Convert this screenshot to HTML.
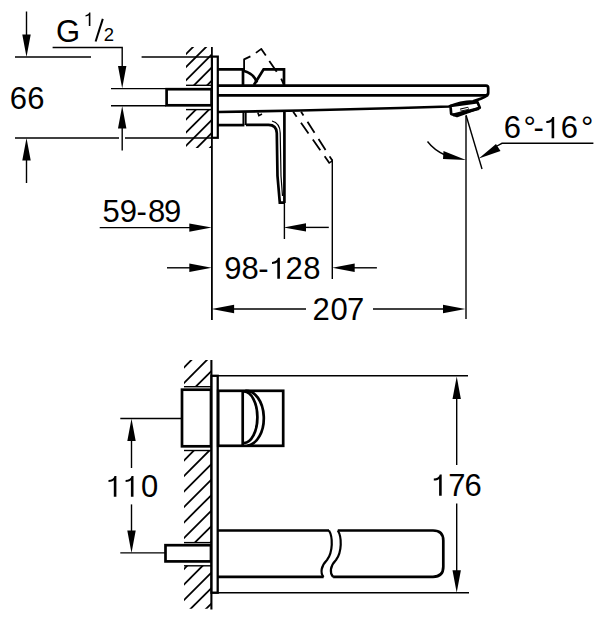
<!DOCTYPE html>
<html><head><meta charset="utf-8"><style>
html,body{margin:0;padding:0;background:#fff;}
svg{display:block;}
text{font-family:"Liberation Sans",sans-serif;fill:#000;}
</style></head><body>
<svg width="604" height="620" viewBox="0 0 604 620">
<defs>
<clipPath id="h1"><rect x="186" y="47" width="25.7" height="38.3"/></clipPath>
<clipPath id="h2"><rect x="186" y="109.6" width="25.7" height="38.4"/></clipPath>
<clipPath id="h3"><rect x="184" y="360" width="27" height="26.7"/></clipPath>
<clipPath id="h4"><rect x="184" y="450.5" width="27" height="92.1"/></clipPath>
<clipPath id="h5"><rect x="184" y="565.8" width="27" height="43"/></clipPath>
</defs>
<rect width="604" height="620" fill="#fff"/>
<g stroke="#000" stroke-width="1.4" fill="none"><line x1="26.5" y1="11.5" x2="26.5" y2="40"/><line x1="15" y1="57" x2="91" y2="57"/><line x1="141.6" y1="57" x2="212" y2="57"/><line x1="15" y1="138" x2="119" y2="138"/><line x1="125" y1="138" x2="212" y2="138"/><line x1="26.5" y1="155" x2="26.5" y2="183"/><polyline points="52.6,47.5 122.2,47.5 122.2,70"/><line x1="111" y1="88.6" x2="166" y2="88.6"/><line x1="111" y1="105.8" x2="166" y2="105.8"/><line x1="122.2" y1="125" x2="122.2" y2="150.4"/><line x1="211.9" y1="47" x2="211.9" y2="320" stroke-width="1.8"/><line x1="186" y1="85.3" x2="212" y2="85.3"/><line x1="186" y1="109.6" x2="212" y2="109.6"/></g><g stroke="#000" fill="none"><g clip-path="url(#h1)" stroke-width="1.8"><line x1="184" y1="56" x2="213.7" y2="26.30000000000001"/><line x1="184" y1="69.1" x2="213.7" y2="39.400000000000006"/><line x1="184" y1="82.19999999999999" x2="213.7" y2="52.5"/><line x1="184" y1="95.30000000000001" x2="213.7" y2="65.60000000000002"/><line x1="184" y1="108.40000000000003" x2="213.7" y2="78.70000000000005"/></g><g clip-path="url(#h2)" stroke-width="1.8"><line x1="184" y1="56" x2="213.7" y2="26.30000000000001"/><line x1="184" y1="69.1" x2="213.7" y2="39.400000000000006"/><line x1="184" y1="82.19999999999999" x2="213.7" y2="52.5"/><line x1="184" y1="95.30000000000001" x2="213.7" y2="65.60000000000002"/><line x1="184" y1="108.40000000000003" x2="213.7" y2="78.70000000000005"/><line x1="184" y1="121.50000000000006" x2="213.7" y2="91.80000000000007"/><line x1="184" y1="134.60000000000008" x2="213.7" y2="104.90000000000009"/><line x1="184" y1="147.7000000000001" x2="213.7" y2="118.00000000000011"/><line x1="184" y1="160.80000000000013" x2="213.7" y2="131.10000000000014"/><line x1="184" y1="173.90000000000015" x2="213.7" y2="144.20000000000016"/></g></g><g fill="#000"><polygon points="26.5,57.0 22.3,34.6 30.7,34.6"/><polygon points="26.5,138.0 22.3,160.4 30.7,160.4"/><polygon points="122.2,88.3 118.0,65.9 126.4,65.9"/><polygon points="122.2,106.0 118.0,128.4 126.4,128.4"/></g><rect x="166.6" y="89.2" width="45" height="16.1" fill="#fff" stroke="#000" stroke-width="2.7"/><rect x="211.9" y="56.6" width="5.9" height="81.2" fill="#fff" stroke="#000" stroke-width="2.2"/><g stroke="#000" stroke-width="2.7" fill="none"><polyline points="218,69.4 243,69.4 243,86"/><polyline points="253.9,85 263.6,69.4 284,69.4 284,85.7"/><path d="M243.3,70.8 A19,19 0 0 1 257,82.5"/><path d="M218,85.7 H486 Q488.2,85.7 488.2,88 V93 Q488.2,95 486,95"/><line x1="218" y1="95.3" x2="487" y2="95.3"/><path d="M218,112 L300,110.5 L400,108 L449,106.5 Q460,102 473,101.4 Q482,99 488,95"/><polyline points="218,125.1 244.4,125.1"/><line x1="243.4" y1="112" x2="243.4" y2="125.1" stroke-width="1.9"/><line x1="245.7" y1="112" x2="245.7" y2="125.1" stroke-width="1.9"/><polyline points="257.8,112.4 258.9,115.6 262,114" stroke-width="1.6"/><path d="M246,124.8 H268.5 Q276.5,124.8 276.8,133 L277.5,176 L279.8,202.6 H284.4"/><line x1="284.4" y1="111" x2="284.4" y2="203"/></g><path d="M272,121 Q280,123 280.2,133 L281,176 L282.5,196" fill="none" stroke="#000" stroke-width="1.2"/><line x1="284.4" y1="203" x2="284.4" y2="239" stroke="#000" stroke-width="1.4"/><g stroke="#000" stroke-width="1.8" fill="none"><path d="M244.1,70.5 V59.4 L250.4,56.4 M255.9,52.9 L261.3,48.9 L265.8,55.4 M269.3,60.9 L276.7,71.8 M281.2,78.7 L283.4,83.7" stroke-linejoin="round"/><line x1="293.2" y1="111.8" x2="329.5" y2="163.2" stroke-dasharray="13,7.5" stroke-dashoffset="7"/><line x1="301.1" y1="111.8" x2="332.3" y2="160.6" stroke-dasharray="13,7.5" stroke-dashoffset="8.6"/></g><polyline fill="none" points="329,163.2 332.3,160.6 332.3,279" stroke="#000" stroke-width="1.4"/><path d="M450.5,106 L477.5,102.2 L479.8,107.8 L457,116 L451.2,114 Z" fill="#fff" stroke="#000" stroke-width="2.7" stroke-linejoin="round"/><line x1="453" y1="115" x2="479" y2="108.5" stroke="#000" stroke-width="3"/><path d="M460.5,110 L468.5,108.2" stroke="#000" stroke-width="3.2"/><path d="M461,110 L468,108.4" stroke="#fff" stroke-width="1.2"/><g stroke="#000" stroke-width="1.4" fill="none"><line x1="466" y1="116" x2="466" y2="319"/><line x1="466" y1="115" x2="482" y2="169"/><path d="M427.5,141.5 Q434,150 445,155"/><polyline points="497,146 502,143.3 593.4,143.3"/></g><g fill="#000"><polygon points="466,160 443.5,151 443,159"/><polygon points="478.8,158.5 496,144 500.5,151"/></g><g stroke="#000" stroke-width="1.4" fill="none"><line x1="99.7" y1="227.6" x2="195" y2="227.6"/><line x1="300" y1="227.4" x2="328.8" y2="227.4"/><line x1="167" y1="267.8" x2="195" y2="267.8"/><line x1="350" y1="267.8" x2="376.9" y2="267.8"/><line x1="230" y1="309" x2="306" y2="309"/><line x1="373" y1="309" x2="450" y2="309"/></g><g fill="#000"><polygon points="211.7,227.6 189.3,223.4 189.3,231.8"/><polygon points="283.6,227.4 306.0,223.2 306.0,231.6"/><polygon points="211.7,267.8 189.3,263.6 189.3,272.0"/><polygon points="332.3,267.8 354.7,263.6 354.7,272.0"/><polygon points="211.7,309.0 234.1,304.8 234.1,313.2"/><polygon points="465.4,309.0 443.0,304.8 443.0,313.2"/></g><g stroke="#000" stroke-width="1.4" fill="none"><line x1="211.4" y1="360" x2="211.4" y2="609.5" stroke-width="2.1"/><line x1="184" y1="386.7" x2="211" y2="386.7"/><line x1="184" y1="450.5" x2="211" y2="450.5"/><line x1="184" y1="542.6" x2="211" y2="542.6"/><line x1="184" y1="565.8" x2="211" y2="565.8"/><line x1="218" y1="375.8" x2="468" y2="375.8"/><line x1="212" y1="592.7" x2="469" y2="592.7"/><line x1="120.3" y1="418.5" x2="182" y2="418.5"/><line x1="120.3" y1="552.9" x2="165.5" y2="552.9"/><line x1="131.5" y1="435" x2="131.5" y2="468"/><line x1="131.5" y1="504.4" x2="131.5" y2="535"/><line x1="456.7" y1="395" x2="456.7" y2="465"/><line x1="456.7" y1="503.4" x2="456.7" y2="575"/></g><g stroke="#000" fill="none"><g clip-path="url(#h3)" stroke-width="1.8"><line x1="182" y1="369.4" x2="213" y2="338.4"/><line x1="182" y1="384.9" x2="213" y2="353.9"/><line x1="182" y1="400.4" x2="213" y2="369.4"/></g><g clip-path="url(#h4)" stroke-width="1.8"><line x1="182" y1="462.4" x2="213" y2="431.4"/><line x1="182" y1="477.9" x2="213" y2="446.9"/><line x1="182" y1="493.4" x2="213" y2="462.4"/><line x1="182" y1="508.9" x2="213" y2="477.9"/><line x1="182" y1="524.4" x2="213" y2="493.4"/><line x1="182" y1="539.9" x2="213" y2="508.9"/><line x1="182" y1="555.4" x2="213" y2="524.4"/><line x1="182" y1="570.9" x2="213" y2="539.9"/></g><g clip-path="url(#h5)" stroke-width="1.8"><line x1="182" y1="462.4" x2="213" y2="431.4"/><line x1="182" y1="477.9" x2="213" y2="446.9"/><line x1="182" y1="493.4" x2="213" y2="462.4"/><line x1="182" y1="508.9" x2="213" y2="477.9"/><line x1="182" y1="524.4" x2="213" y2="493.4"/><line x1="182" y1="539.9" x2="213" y2="508.9"/><line x1="182" y1="555.4" x2="213" y2="524.4"/><line x1="182" y1="570.9" x2="213" y2="539.9"/><line x1="182" y1="586.4" x2="213" y2="555.4"/><line x1="182" y1="601.9" x2="213" y2="570.9"/><line x1="182" y1="617.4" x2="213" y2="586.4"/><line x1="182" y1="632.9" x2="213" y2="601.9"/></g></g><g fill="#000"><polygon points="131.5,418.5 127.3,440.9 135.7,440.9"/><polygon points="131.5,552.9 127.3,530.5 135.7,530.5"/><polygon points="456.7,376.6 452.5,399.0 460.9,399.0"/><polygon points="456.7,592.7 452.5,570.3 460.9,570.3"/></g><g stroke="#000" stroke-width="2.7" fill="#fff"><rect x="182" y="389.7" width="29" height="56.6"/><rect x="165.5" y="545.2" width="45.5" height="16.2"/><rect x="211.5" y="375.8" width="6.2" height="216.9" stroke-width="2.3"/><rect x="218.2" y="390.8" width="65" height="55"/></g><g stroke="#000" stroke-width="2.7" fill="none"><line x1="242.7" y1="390.8" x2="242.7" y2="445.8"/><path d="M243.9,391.5 A13.5,25.75 0 0 1 243.9,443"/><path d="M245.1,391 A17.5,27.3 0 0 1 247.5,445.5"/><path d="M218,530.5 H329 M337.8,530.5 H433 Q443.3,530.5 443.3,540.5 V566.8 Q443.3,576.8 433,576.8 H333.1 M323.6,576.8 H218"/><path d="M329,530.5 C333,537 333,552 327,560 C321,566 320,573 323.6,577" stroke-width="2.2"/><path d="M337.8,530.5 C342,537 342,552 336,560 C330,566 329.5,573 333.1,577" stroke-width="2.2"/></g>
<g fill="#000"><text x="9.70" y="108.5" font-size="31">6</text><text x="27.20" y="108.5" font-size="31">6</text><text x="56.00" y="42.0" font-size="31">G</text><path d="M90.41,25.90 V12.60 H89.23 C88.86,14.21 87.37,15.02 85.51,15.14 V16.38 C87.00,16.32 88.11,15.89 88.79,15.33 V25.90 Z"/><text x="103.7" y="41.4" font-size="18.5">2</text><line x1="95.6" y1="41.5" x2="102.8" y2="18.9" stroke="#000" stroke-width="2"/><text x="102.50" y="221.9" font-size="31">5</text><text x="119.70" y="221.9" font-size="31">9</text><text x="136.50" y="221.9" font-size="31">-</text><text x="147.90" y="221.9" font-size="31">8</text><text x="163.90" y="221.9" font-size="31">9</text><text x="224.30" y="278.8" font-size="31">9</text><text x="241.50" y="278.8" font-size="31">8</text><text x="258.30" y="278.8" font-size="31">-</text><path d="M279.90,278.80 V257.80 H278.00 C277.40,260.40 275.00,261.70 272.00,261.90 V263.90 C274.40,263.80 276.20,263.10 277.30,262.20 V278.80 Z"/><text x="285.40" y="278.8" font-size="31">2</text><text x="303.20" y="278.8" font-size="31">8</text><text x="312.40" y="319.7" font-size="31">2</text><text x="330.60" y="319.7" font-size="31">0</text><text x="347.10" y="319.7" font-size="31">7</text><text x="503.80" y="138.3" font-size="31">6</text><text x="523.40" y="138.3" font-size="31">°</text><text x="533.40" y="138.3" font-size="31">-</text><path d="M554.20,138.30 V117.00 H552.30 C551.70,119.60 549.30,120.90 546.30,121.10 V123.10 C548.70,123.00 550.50,122.30 551.60,121.40 V138.30 Z"/><text x="560.70" y="138.3" font-size="31">6</text><text x="580.90" y="138.3" font-size="31">°</text><path d="M116.40,496.70 V475.90 H114.50 C113.90,478.50 111.50,479.80 108.50,480.00 V482.00 C110.90,481.90 112.70,481.20 113.80,480.30 V496.70 Z"/><path d="M133.50,496.70 V475.90 H131.60 C131.00,478.50 128.60,479.80 125.60,480.00 V482.00 C128.00,481.90 129.80,481.20 130.90,480.30 V496.70 Z"/><text x="141.00" y="496.7" font-size="31">0</text><path d="M441.70,495.80 V474.50 H439.80 C439.20,477.10 436.80,478.40 433.80,478.60 V480.60 C436.20,480.50 438.00,479.80 439.10,478.90 V495.80 Z"/><text x="448.20" y="495.8" font-size="31">7</text><text x="464.60" y="495.8" font-size="31">6</text></g>
</svg>
</body></html>
